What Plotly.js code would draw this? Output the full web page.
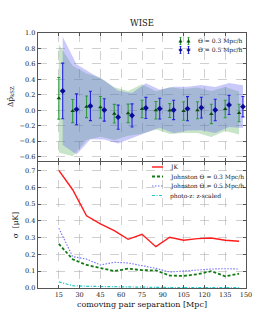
<!DOCTYPE html>
<html><head><meta charset="utf-8">
<script src="https://cdn.plot.ly/plotly-3.0.1.min.js"></script>
<style>html,body{margin:0;padding:0;background:#fff}</style>
</head><body><div id="chart" style="width:273px;height:328px"></div>
<script>
// separations (Mpc)
const sepGreen = [15,25,35,45,55,65,75,85,95,105,115,125,135,145];
const sepBlue  = [17.8,27.8,37.8,47.8,57.8,67.8,77.8,87.8,97.8,107.8,117.8,127.8,137.8,147.8];
// Delta p_kSZ, Theta = 0.3 Mpc/h
const pGreen   = [0.155,-0.01,0.045,0.038,-0.044,-0.04,0.017,0.0,-0.004,-0.009,0.0,-0.048,0.017,-0.035];
const errGreen = [0.27,0.15,0.14,0.14,0.12,0.12,0.113,0.113,0.09,0.12,0.11,0.125,0.113,0.113];
// Delta p_kSZ, Theta = 0.5 Mpc/h
const pBlue    = [0.25,0.012,0.056,0.004,-0.089,-0.067,0.03,0.021,0.004,0.021,0.034,0.004,0.069,0.047];
const errBlue  = [0.36,0.2,0.19,0.145,0.156,0.15,0.137,0.134,0.125,0.156,0.134,0.139,0.124,0.132];
// sigma [muK]
const sigJK    = [0.70,0.585,0.43,0.382,0.342,0.29,0.32,0.246,0.302,0.284,0.294,0.298,0.284,0.278];
const sigJ03   = [0.263,0.171,0.137,0.117,0.101,0.115,0.106,0.105,0.074,0.072,0.082,0.10,0.07,0.085];
const sigJ05   = [0.356,0.187,0.172,0.137,0.153,0.149,0.133,0.117,0.095,0.101,0.111,0.113,0.115,0.113];
const sigPz    = [0.036,0.014,0.010,0.008,0.006,0.005,0.004,0.004,0.003,0.003,0.003,0.003,0.003,0.003];
const xTicks   = [15,30,45,60,75,90,105,120,135,150];
const legendTop    = ['Θ = 0.3 Mpc/h','Θ = 0.5 Mpc/h'];
const legendBottom = ['JK','Johnston Θ = 0.3 Mpc/h','Johnston Θ = 0.5 Mpc/h','photo-z: z-scaled'];

const up = (v,s)=>v.map((a,i)=>a+s[i]);
const dn = (v,s)=>v.map((a,i)=>a-s[i]);

const font = "DejaVu Serif, serif";
const txt = '#151515';
const cG = '#2e9a3e', cGm = '#0b4d0b', cB = '#2323e0', cBm = '#0a0a9a';
const lineStyles = [
  {color:'#ff1a1a', width:1.4},
  {color:'#127a12', width:1.8, dash:'3px,2px'},
  {color:'#7070ff', width:1.1, dash:'1.5px,1.5px'},
  {color:'#20c8c8', width:1.2, dash:'3px,1.5px,1px,1.5px'}
];
const sigSeries = [sigJK, sigJ03, sigJ05, sigPz];

const traces = [
  {x:sepGreen, y:dn(pGreen,sigJK), mode:'lines', line:{width:0}, hoverinfo:'skip', xaxis:'x', yaxis:'y'},
  {x:sepGreen, y:up(pGreen,sigJK), mode:'lines', line:{width:0}, fill:'tonexty', fillcolor:'rgba(60,160,60,0.28)', hoverinfo:'skip', xaxis:'x', yaxis:'y'},
  {x:sepBlue, y:dn(pBlue,sigJK), mode:'lines', line:{width:0}, hoverinfo:'skip', xaxis:'x', yaxis:'y'},
  {x:sepBlue, y:up(pBlue,sigJK), mode:'lines', line:{width:0}, fill:'tonexty', fillcolor:'rgba(90,90,240,0.32)', hoverinfo:'skip', xaxis:'x', yaxis:'y'},
  {x:sepGreen, y:pGreen, mode:'markers', name:legendTop[0],
   marker:{symbol:'triangle-up', size:4, color:cGm},
   error_y:{type:'data', array:errGreen, visible:true, color:cG, thickness:1.1, width:1.5}, xaxis:'x', yaxis:'y'},
  {x:sepBlue, y:pBlue, mode:'markers', name:legendTop[1],
   marker:{symbol:'diamond', size:4.5, color:cBm},
   error_y:{type:'data', array:errBlue, visible:true, color:cB, thickness:1.1, width:1.5}, xaxis:'x', yaxis:'y'}
];
sigSeries.forEach((s,i)=>traces.push({x:sepGreen, y:s, mode:'lines', name:legendBottom[i], line:lineStyles[i], xaxis:'x2', yaxis:'y2'}));

// manual legends (paper coords of the plot area: 38..246 px wide, 33..288 px high)
const PX = p => (p-38)/208, PY = p => (288-p)/255;
const shapes = [], annotations = [];
function errSym(xp, yp, col, mcol, tri){
  shapes.push({type:'line', xref:'paper', yref:'paper', x0:PX(xp), x1:PX(xp), y0:PY(yp-3.5), y1:PY(yp+3.5), line:{color:col, width:1.1}});
  shapes.push({type:'line', xref:'paper', yref:'paper', x0:PX(xp-0.9), x1:PX(xp+0.9), y0:PY(yp-3.5), y1:PY(yp-3.5), line:{color:col, width:1}});
  shapes.push({type:'line', xref:'paper', yref:'paper', x0:PX(xp-0.9), x1:PX(xp+0.9), y0:PY(yp+3.5), y1:PY(yp+3.5), line:{color:col, width:1}});
  const path = tri
    ? `M${PX(xp-1.6)},${PY(yp+1.3)} L${PX(xp+1.6)},${PY(yp+1.3)} L${PX(xp)},${PY(yp-1.6)} Z`
    : `M${PX(xp-1.8)},${PY(yp)} L${PX(xp)},${PY(yp-1.8)} L${PX(xp+1.8)},${PY(yp)} L${PX(xp)},${PY(yp+1.8)} Z`;
  shapes.push({type:'path', xref:'paper', yref:'paper', path:path, fillcolor:mcol, line:{color:mcol, width:0.5}});
}
[[41,cG,cGm,true],[50,cB,cBm,false]].forEach((r,i)=>{
  errSym(180.5, r[0], r[1], r[2], r[3]);
  errSym(188.5, r[0], r[1], r[2], r[3]);
  annotations.push({xref:'paper', yref:'paper', x:PX(195.5), y:PY(r[0]), xanchor:'left', yanchor:'middle', showarrow:false,
    text:legendTop[i], font:{family:font, size:6, color:txt}});
});
[167,176.5,186,195.5].forEach((yy,i)=>{
  shapes.push({type:'line', xref:'paper', yref:'paper', x0:PX(152), x1:PX(163), y0:PY(yy), y1:PY(yy), line:lineStyles[i]});
  annotations.push({xref:'paper', yref:'paper', x:PX(167.5), y:PY(yy), xanchor:'left', yanchor:'middle', showarrow:false,
    text:legendBottom[i], font:{family:font, size:6, color:txt}});
});

const axBase = {showgrid:true, gridcolor:'#b0b0b0', griddash:'dash', gridwidth:0.6,
  showline:true, linecolor:'#555', linewidth:1.4, mirror:'ticks', ticks:'inside', ticklen:3,
  tickcolor:'#555', zeroline:false, tickfont:{family:font, size:6.5, color:txt}};

const layout = {
  width:273, height:328, margin:{l:38, r:27, t:33, b:40},
  paper_bgcolor:'#fff', plot_bgcolor:'#fff', showlegend:false,
  font:{family:font, color:txt},
  title:{text:'WISE', font:{family:font, size:8.5, color:txt}, x:0.52, xanchor:'center', y:0.92, yanchor:'bottom'},
  xaxis:Object.assign({}, axBase, {range:[0,150], tickvals:xTicks, showticklabels:false, anchor:'y', matches:'x2'}),
  yaxis:Object.assign({}, axBase, {domain:[0.5,1], range:[-0.65,1.0], dtick:0.2, tickformat:'.1f',
    title:{text:'Δp̂<sub>kSZ</sub>', font:{family:font, size:7.5, color:txt}, standoff:5}}),
  xaxis2:Object.assign({}, axBase, {range:[0,150], tickvals:xTicks, anchor:'y2',
    title:{text:'comoving pair separation [Mpc]', font:{family:font, size:8, color:txt}, standoff:3}}),
  yaxis2:Object.assign({}, axBase, {domain:[0,0.494], range:[0,0.75], dtick:0.1, tickformat:'.1f',
    title:{text:'σ  [μK]', font:{family:font, size:7.5, color:txt}, standoff:5}}),
  shapes:shapes, annotations:annotations
};
Plotly.newPlot('chart', traces, layout, {displayModeBar:false, staticPlot:true});
</script></body></html>
